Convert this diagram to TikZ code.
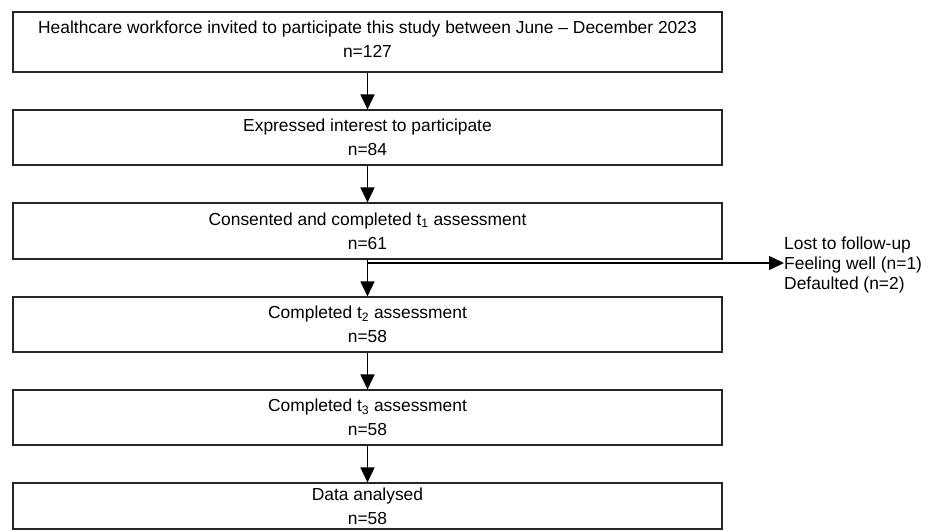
\documentclass[tikz,border=0pt]{standalone}
\usepackage{fontspec}
\setmainfont{Liberation Sans}
\usetikzlibrary{arrows.meta}
\begin{document}
\begin{tikzpicture}[x=1pt,y=-1pt,
  box/.style={draw=black!85,line width=1.1pt,minimum width=709pt,inner sep=0pt,align=center,
    font=\fontsize{17.4}{24}\selectfont},
  arr/.style={line width=1.5pt,-{Triangle[length=15pt,width=14pt]}},
  side/.style={align=left,anchor=west,inner sep=0pt,font=\fontsize{17.4}{19.8}\selectfont}]
\useasboundingbox (0,0) rectangle (935,531);
\node[box,minimum height=60pt,text depth=6.5pt] (b1) at (367.5,42) {Healthcare workforce invited to participate this study between June – December 2023\\n=127};
\node[box,minimum height=55pt] (b2) at (367.5,137.5) {Expressed interest to participate\\n=84};
\node[box,minimum height=56pt] (b3) at (367.5,231) {Consented and completed t\textsubscript{1} assessment\\n=61};
\node[box,minimum height=55pt] (b4) at (367.5,324.5) {Completed t\textsubscript{2} assessment\\n=58};
\node[box,minimum height=55pt] (b5) at (367.5,417.5) {Completed t\textsubscript{3} assessment\\n=58};
\node[box,minimum height=46pt] (b6) at (367.5,506) {Data analysed\\n=58};
\coordinate (j) at (368,263);
\node[side] (lost) at (784,265) {Lost to follow-up\\Feeling well (n=1)\\Defaulted (n=2)};
\draw[arr] (b1.south) -- (b2.north);
\draw[arr] (b2.south) -- (b3.north);
\draw[arr] (b3.south) -- (b4.north);
\draw[arr] (j) -- (j -| lost.west);
\draw[arr] (b4.south) -- (b5.north);
\draw[arr] (b5.south) -- (b6.north);
\end{tikzpicture}
\end{document}
